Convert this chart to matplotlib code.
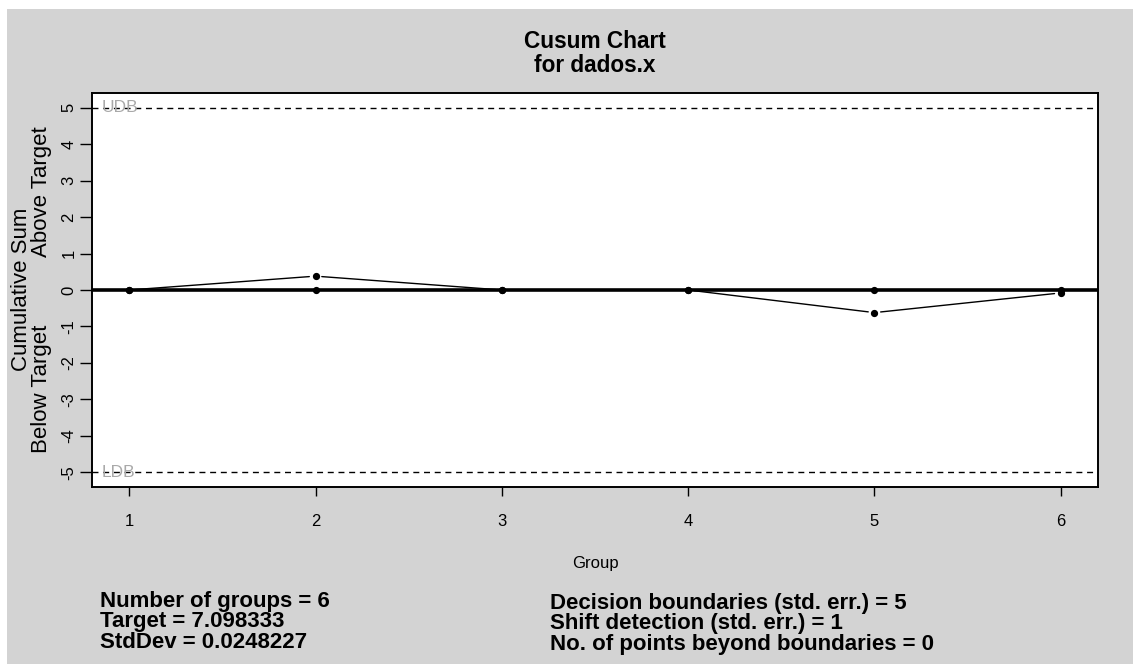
import matplotlib
matplotlib.use("Agg")
import matplotlib.pyplot as plt
import matplotlib.transforms as mtransforms
from matplotlib.patches import Rectangle

plt.rcParams['font.family'] = ['Liberation Sans', 'DejaVu Sans']
plt.rcParams['axes.unicode_minus'] = False

# data
groups = [1, 2, 3, 4, 5, 6]
cusum_pos = [0, 0.38, 0, 0, 0, 0]
cusum_neg = [0, 0, 0, 0, -0.62, -0.08]
decision_limit = 5
y_ticks = [-5, -4, -3, -2, -1, 0, 1, 2, 3, 4, 5]

stats_left = ["Number of groups = 6", "Target = 7.098333", "StdDev = 0.0248227"]
stats_right = ["Decision boundaries (std. err.) = 5",
               "Shift detection (std. err.) = 1",
               "No. of points beyond boundaries = 0"]

W, H = 1133, 664
fig = plt.figure(figsize=(W / 100, H / 100), dpi=100)
fig.patch.set_facecolor('white')
fig.patches.append(Rectangle((7 / W, 0), 1 - 7 / W, (H - 9) / H, transform=fig.transFigure,
                             facecolor='#d3d3d3', edgecolor='none', zorder=-5))


def fy(py):
    return (H - py) / H


ax = fig.add_axes([92 / W, fy(487), (1098 - 92) / W, (487 - 93) / H])
ax.set_zorder(2)
ax.set_facecolor('white')

ax.axhline(0, color='black', lw=2.6, zorder=2)
for lim in (decision_limit, -decision_limit):
    ax.axhline(lim, color='black', lw=1.0, linestyle=(0, (4.3, 3.4)), zorder=2)


def line_with_gaps(xs, ys):
    # R type="b": points joined by lines that stop short of each point
    ax.plot(xs, ys, linestyle='none', color='black', marker='o', ms=4.2, zorder=3)
    for i in range(len(xs) - 1):
        ax.annotate('', xy=(xs[i + 1], ys[i + 1]), xytext=(xs[i], ys[i]),
                    arrowprops=dict(arrowstyle='-', color='black', lw=1.0,
                                    shrinkA=4.5, shrinkB=4.5), zorder=3)


line_with_gaps(groups, cusum_pos)
line_with_gaps(groups, cusum_neg)

ax.set_xlim(0.8, 6.2)
ax.set_ylim(-5.4, 5.4)
ax.set_xticks(groups)
ax.set_yticks(y_ticks)
ax.tick_params(axis='x', length=6.5, width=1.0, pad=13, labelsize=12)
ax.tick_params(axis='y', length=8.3, width=1.0, pad=3, labelsize=12, labelrotation=90)
for lbl in ax.get_yticklabels():
    lbl.set_va('center')
for sp in ax.spines.values():
    sp.set_linewidth(1.4)

ax.text(0.85, decision_limit, "UDB", color='#a9a9a9', fontsize=12.5, va='center', ha='left')
ax.text(0.85, -decision_limit, "LDB", color='#a9a9a9', fontsize=12.5, va='center', ha='left')

# y axis titles
fig.text(22 / W, fy(289), "Cumulative Sum", rotation=90, ha='center', va='center', fontsize=16)
blend = mtransforms.blended_transform_factory(fig.transFigure, ax.transData)
fig.text(42 / W, 5.4 / 2, "Above Target", rotation=90, ha='center', va='center',
         fontsize=16, transform=blend)
fig.text(42 / W, -5.4 / 2, "Below Target", rotation=90, ha='center', va='center',
         fontsize=16, transform=blend)

# title
fig.text(595 / W, fy(48), "Cusum Chart", ha='center', va='baseline', fontsize=16.3, fontweight='bold')
fig.text(595 / W, fy(72), "for dados.x", ha='center', va='baseline', fontsize=16.3, fontweight='bold')

fig.text(595 / W, fy(568), "Group", ha='center', va='baseline', fontsize=12)

for i, s in enumerate(stats_left):
    fig.text(100 / W, fy(607 + i * 20.5), s, ha='left', va='baseline', fontsize=16, fontweight='bold')
for i, s in enumerate(stats_right):
    fig.text(550 / W, fy(609 + i * 20.5), s, ha='left', va='baseline', fontsize=16, fontweight='bold')

fig.savefig("out.png", dpi=100)
